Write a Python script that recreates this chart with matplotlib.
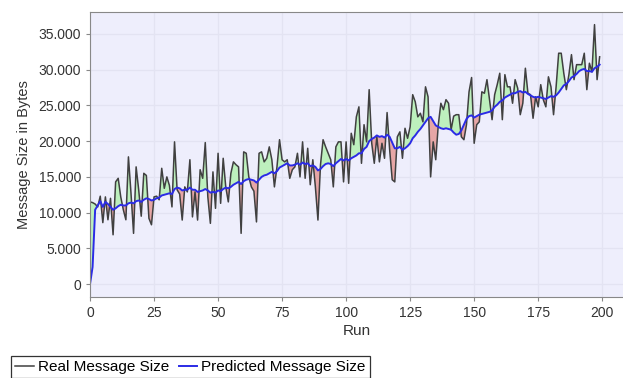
import matplotlib
matplotlib.use('Agg')
from matplotlib import pyplot as plt
from matplotlib.ticker import FuncFormatter
import numpy as np

plt.rcParams['font.family'] = ['Liberation Sans', 'DejaVu Sans']

# real message size per run
real = [11500, 11400, 11200, 10800, 12300, 8600, 12200, 9000, 12000, 6900,
        14300, 14800, 12200, 10400, 9000, 17800, 12700, 7100, 16400, 13200,
        9500, 15500, 15200, 9200, 8300, 12200, 12300, 11800, 16200, 13400,
        15000, 13800, 10800, 19900, 13200, 12600, 8960, 13600, 12900, 17400,
        9400, 12900, 8960, 16000, 14800, 19800, 12200, 8500, 15700, 10600,
        18300, 11300, 17600, 13600, 11500, 15500, 17100, 16700, 16400, 7100,
        18500, 18300, 15000, 13600, 13000, 8700, 18300, 18500, 17100, 17600,
        19200, 17400, 13600, 16400, 20200, 17400, 17100, 17400, 14800, 16000,
        16400, 18300, 15000, 19900, 14800, 19000, 13900, 17400, 13600, 8960,
        16700, 20200, 19200, 18300, 17400, 13600, 19200, 19900, 19900, 14300,
        19900, 14100, 21100, 19500, 23400, 24800, 16900, 22300, 19900, 27200,
        19700, 16900, 20600, 17100, 19700, 17600, 24000, 18800, 14600, 14300,
        20600, 21300, 17600, 21800, 20400, 22000, 26500, 25500, 23400, 23900,
        22700, 27600, 26200, 15000, 19900, 17400, 22300, 25300, 24400, 25800,
        25300, 21600, 23500, 23700, 23700, 20600, 20200, 22300, 26900, 28900,
        19700, 22300, 22700, 26900, 26700, 28600, 25800, 23000, 26500, 27900,
        29500, 23000, 29300, 27600, 27600, 25300, 28600, 27400, 23700, 25300,
        30200, 26700, 26500, 23200, 26200, 24800, 27900, 25800, 24800, 29000,
        27600, 23700, 27600, 32300, 32300, 29500, 27200, 29300, 32100, 28600,
        30700, 30700, 30700, 32300, 27200, 30900, 29700, 36300, 28600, 31800]

# predicted message size per run
predicted = [0, 2400, 10400, 11000, 11600, 10800, 11500, 11200, 10800, 10400,
             10600, 10900, 11100, 11000, 11000, 11300, 11400, 11300, 11600, 11700,
             11500, 11800, 12000, 11900, 11700, 11800, 12000, 12100, 12400, 12500,
             12600, 12700, 12600, 13300, 13500, 13400, 13100, 13200, 13200, 13500,
             13200, 13200, 12900, 13000, 13100, 13300, 13100, 12800, 12900, 12800,
             13100, 13000, 13300, 13500, 13400, 13600, 13900, 14100, 14300, 14000,
             14400, 14600, 14700, 14600, 14500, 14200, 14600, 15000, 15200, 15300,
             15500, 15700, 15500, 15800, 16300, 16500, 16700, 16900, 16600, 16600,
             16700, 16900, 16700, 17000, 16800, 16900, 16500, 16600, 16400, 15900,
             16100, 16500, 16800, 16900, 16800, 16500, 16900, 17200, 17500, 17300,
             17500, 17300, 17600, 17800, 18000, 18300, 18300, 18900, 19200, 20000,
             20300, 20500, 20800, 20600, 20700, 20500, 20900, 20600, 19800, 19000,
             19000, 19200, 18800, 19000, 19300, 19700, 20400, 20800, 21300, 21700,
             22200, 22700, 23200, 23400, 22800, 22200, 22000, 21800, 21700, 21800,
             21700, 21600, 21200, 20900, 21000, 21500, 22300, 23100, 23500, 23600,
             23300, 23500, 23700, 23800, 23900, 24000, 24100, 24300, 24800, 25100,
             25500, 25700, 26100, 26300, 26500, 26700, 26700, 26900, 27000, 26800,
             26900, 26600, 26400, 26200, 26100, 26200, 26100, 26000, 25900, 26100,
             26300, 26200, 26400, 26800, 27300, 27800, 28000, 28400, 28900, 29100,
             29400, 29800, 30000, 30100, 29800, 29800, 29700, 30200, 30400, 30700]

runs = np.arange(len(real))
real = np.array(real)
predicted = np.array(predicted)

fig = plt.figure(figsize=(6.23, 3.78), dpi=100)
ax = fig.add_axes([0.1445, 0.214, 0.855, 0.753])
ax.set_facecolor('#eeeefc')

ax.fill_between(runs, real, predicted, where=real >= predicted, interpolate=True,
                color='#bdf0bd', linewidth=0)
ax.fill_between(runs, real, predicted, where=real < predicted, interpolate=True,
                color='#e6a6a6', linewidth=0)
ax.plot(runs, real, color='#404040', lw=1.1, label='Real Message Size')
ax.plot(runs, predicted, color='#2b2be6', lw=1.4, label='Predicted Message Size')

ax.set_xlim(0, 208)
ax.set_ylim(-1820, 38000)
ax.set_xticks(range(0, 201, 25))
ax.set_yticks(range(0, 35001, 5000))
ax.yaxis.set_major_formatter(FuncFormatter(lambda v, p: f'{int(v):,}'.replace(',', '.')))
ax.grid(True, color='#e3e3f2', lw=0.9)
ax.set_axisbelow(True)

for s in ['top', 'left', 'bottom']:
    ax.spines[s].set_color('#888888')
    ax.spines[s].set_linewidth(0.8)
ax.spines['right'].set_visible(False)
ax.tick_params(colors='#888888', labelcolor='#333333', labelsize=10, length=3)

ax.set_xlabel('Run', fontsize=11, color='#333333', labelpad=3)
ax.set_ylabel('Message Size in Bytes', fontsize=10.5, color='#333333', labelpad=5)

leg = fig.legend(loc='lower left', bbox_to_anchor=(0.006, -0.02), ncol=2,
                 fontsize=11, frameon=True, fancybox=False, handlelength=1.2,
                 handletextpad=0.3, columnspacing=0.6, borderpad=0.25)
leg.get_frame().set_edgecolor('black')
leg.get_frame().set_linewidth(0.9)

plt.savefig('out.png', dpi=100)
